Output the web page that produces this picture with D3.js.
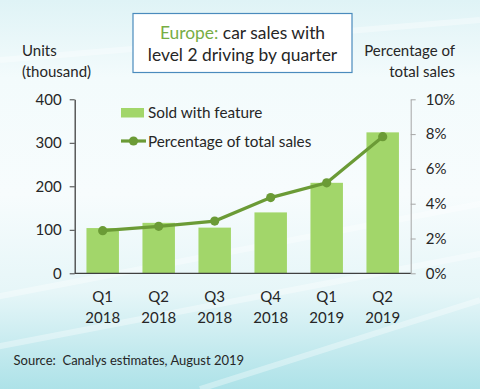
<!DOCTYPE html>
<html><head><meta charset="utf-8">
<script src="https://cdn.jsdelivr.net/npm/d3@7"></script>
<style>body{margin:0;padding:0;overflow:hidden}svg{display:block}text{font-family:Lato,"Open Sans",sans-serif}</style>
</head><body>
<script>
const quarters = ["Q1", "Q2", "Q3", "Q4", "Q1", "Q2"];
const years = ["2018", "2018", "2018", "2018", "2019", "2019"];
const units = [104, 116, 105, 140, 208, 324];
const percent = [2.45, 2.7, 3.0, 4.35, 5.2, 7.85];
const leftTicks = [0, 100, 200, 300, 400];
const rightTicks = [0, 2, 4, 6, 8, 10];

const W = 480, H = 389;
const svg = d3.select("body").append("svg").attr("width", W).attr("height", H);
const defs = svg.append("defs");
const g1 = defs.append("linearGradient").attr("id","bg").attr("x1",0).attr("y1",0).attr("x2",0).attr("y2",1);
[[0,"#dff3f6"],[0.2,"#f3fbfc"],[0.5,"#f7fcfd"],[0.75,"#e6f6f8"],[1,"#ade2e8"]].forEach(s=>g1.append("stop").attr("offset",s[0]).attr("stop-color",s[1]));
svg.append("rect").attr("width",W).attr("height",H).attr("fill","url(#bg)");
// soft streaks
const streaks = [[ -20, 300, 500, 200],[ -20, 350, 500, 250],[0, 60, 480, 20],[200,389,480,300]];
streaks.forEach(s=>svg.append("line").attr("x1",s[0]).attr("y1",s[1]).attr("x2",s[2]).attr("y2",s[3]).attr("stroke","#ffffff").attr("stroke-opacity",0.35).attr("stroke-width",6));

const x = d3.scaleBand().domain(d3.range(quarters.length)).range([74.7, 410.7]).paddingInner(0.42).paddingOuter(0.21);
const yL = d3.scaleLinear().domain([0, 400]).range([273.3, 99.3]);
const yR = d3.scaleLinear().domain([0, 10]).range([273.3, 99.3]);

const axisColor = "#404040";
const textColor = "#262626";

// bars
svg.append("g").selectAll("rect").data(units).join("rect")
  .attr("x", (d,i)=>x(i)).attr("width", x.bandwidth())
  .attr("y", d=>yL(d)).attr("height", d=>yL(0)-yL(d))
  .attr("fill", "#a2d66a");

// left axis
const la = svg.append("g").attr("transform","translate(74.7,0)")
  .call(d3.axisLeft(yL).tickValues(leftTicks).tickSize(5).tickPadding(8).tickSizeOuter(0));
la.select(".domain").attr("stroke", axisColor).attr("stroke-width",1.3);
la.selectAll(".tick line").attr("stroke", axisColor);
la.selectAll(".tick text").attr("font-size",15).attr("fill",textColor).attr("font-family","Lato");
// right axis
const ra = svg.append("g").attr("transform","translate(410.7,0)")
  .call(d3.axisRight(yR).tickValues(rightTicks).tickFormat(d=>d+"%").tickSize(5).tickPadding(10).tickSizeOuter(0));
ra.select(".domain").attr("stroke", "#a6a6a6").attr("stroke-width",1);
ra.selectAll(".tick line").attr("stroke", "#a6a6a6");
ra.selectAll(".tick text").attr("font-size",15).attr("fill",textColor).attr("font-family","Lato");
// baseline
svg.append("line").attr("x1",74.7).attr("x2",410.7).attr("y1",yL(0)).attr("y2",yL(0)).attr("stroke",axisColor).attr("stroke-width",1.3);

// x labels
const xl = svg.append("g");
quarters.forEach((q,i)=>{
  const t = xl.append("text").attr("x", x(i)+x.bandwidth()/2).attr("text-anchor","middle").attr("font-size",15).attr("fill",textColor);
  t.append("tspan").attr("x", x(i)+x.bandwidth()/2).attr("y",302).text(q);
  t.append("tspan").attr("x", x(i)+x.bandwidth()/2).attr("y",323).text(years[i]);
});

// line
const lineColor = "#6b9b36";
svg.append("path").datum(percent)
  .attr("d", d3.line().x((d,i)=>x(i)+x.bandwidth()/2).y(d=>yR(d)))
  .attr("fill","none").attr("stroke",lineColor).attr("stroke-width",3.2);
svg.append("g").selectAll("circle").data(percent).join("circle")
  .attr("cx",(d,i)=>x(i)+x.bandwidth()/2).attr("cy",d=>yR(d)).attr("r",4.6).attr("fill",lineColor);

// legend
svg.append("rect").attr("x",121).attr("y",108).attr("width",23).attr("height",9.5).attr("fill","#a2d66a");
svg.append("text").attr("x",148).attr("y",118).attr("font-size",15.3).attr("fill",textColor).text("Sold with feature");
svg.append("line").attr("x1",121).attr("x2",146).attr("y1",141).attr("y2",141).attr("stroke",lineColor).attr("stroke-width",3.2);
svg.append("circle").attr("cx",133.5).attr("cy",141).attr("r",4.6).attr("fill",lineColor);
svg.append("text").attr("x",148).attr("y",146.5).attr("font-size",15.3).attr("fill",textColor).text("Percentage of total sales");

// title box
svg.append("rect").attr("x",133).attr("y",13.5).attr("width",219).attr("height",59).attr("fill","#ffffff").attr("stroke","#4a8bbd").attr("stroke-width",1.2);
const tt = svg.append("text").attr("text-anchor","middle").attr("font-size",17.4).attr("fill",textColor);
const l1 = tt.append("tspan").attr("x",242.5).attr("y",39);
l1.append("tspan").attr("fill","#77ad45").text("Europe:");
l1.append("tspan").text(" car sales with");
tt.append("tspan").attr("x",242.5).attr("y",61).text("level 2 driving by quarter");

// axis titles
svg.append("text").attr("x",22).attr("y",56).attr("font-size",15).attr("fill",textColor).text("Units");
svg.append("text").attr("x",22).attr("y",77).attr("font-size",15).attr("fill",textColor).text("(thousand)");
svg.append("text").attr("x",455).attr("y",56).attr("text-anchor","end").attr("font-size",15).attr("fill",textColor).text("Percentage of");
svg.append("text").attr("x",455).attr("y",77).attr("text-anchor","end").attr("font-size",15).attr("fill",textColor).text("total sales");

// source
svg.append("text").attr("x",13.5).attr("y",365).attr("font-size",13).attr("fill",textColor).attr("xml:space","preserve").text("Source:  Canalys estimates, August 2019");
</script>
</body></html>
